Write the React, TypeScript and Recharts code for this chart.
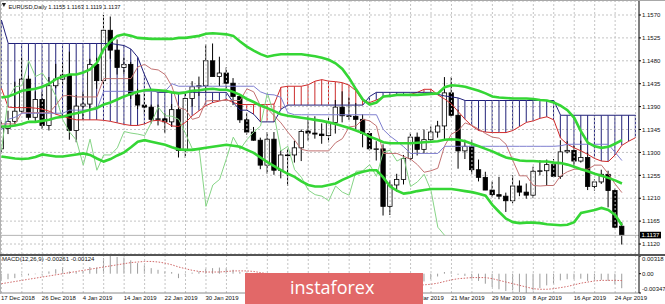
import React from 'react';
import { ComposedChart, Bar, Line, XAxis, YAxis, ReferenceLine, CartesianGrid } from 'recharts';

const FONT = '"Liberation Sans", Arial, sans-serif';

// ---------- data ----------
const dates = [
  '17 Dec 2018','18 Dec 2018','19 Dec 2018','20 Dec 2018','21 Dec 2018','24 Dec 2018','26 Dec 2018','27 Dec 2018','28 Dec 2018','31 Dec 2018',
  '2 Jan 2019','3 Jan 2019','4 Jan 2019','7 Jan 2019','8 Jan 2019','9 Jan 2019','10 Jan 2019','11 Jan 2019','14 Jan 2019','15 Jan 2019',
  '16 Jan 2019','17 Jan 2019','18 Jan 2019','21 Jan 2019','22 Jan 2019','23 Jan 2019','24 Jan 2019','25 Jan 2019','28 Jan 2019','29 Jan 2019',
  '30 Jan 2019','31 Jan 2019','1 Feb 2019','4 Feb 2019','5 Feb 2019','6 Feb 2019','7 Feb 2019','8 Feb 2019','11 Feb 2019','12 Feb 2019',
  '13 Feb 2019','14 Feb 2019','15 Feb 2019','18 Feb 2019','19 Feb 2019','20 Feb 2019','21 Feb 2019','22 Feb 2019','25 Feb 2019','26 Feb 2019',
  '27 Feb 2019','28 Feb 2019','1 Mar 2019','4 Mar 2019','5 Mar 2019','6 Mar 2019','7 Mar 2019','8 Mar 2019','11 Mar 2019','12 Mar 2019',
  '13 Mar 2019','14 Mar 2019','15 Mar 2019','18 Mar 2019','19 Mar 2019','20 Mar 2019','21 Mar 2019','22 Mar 2019','25 Mar 2019','26 Mar 2019',
  '27 Mar 2019','28 Mar 2019','29 Mar 2019','1 Apr 2019','2 Apr 2019','3 Apr 2019','4 Apr 2019','5 Apr 2019','8 Apr 2019','9 Apr 2019',
  '10 Apr 2019','11 Apr 2019','12 Apr 2019','15 Apr 2019','16 Apr 2019','17 Apr 2019','18 Apr 2019','19 Apr 2019','22 Apr 2019','23 Apr 2019',
  '24 Apr 2019','25 Apr 2019','26 Apr 2019','29 Apr 2019',
];
// axis labels that the reference hides behind the watermark
const labelsUnderLogo = ['7 Feb 2019', '15 Feb 2019', '25 Feb 2019', '5 Mar 2019'];

const opens = [
  1.1307,1.1347,1.1361,1.1381,1.1444,1.1369,1.1404,1.1353,1.1431,1.1444,
  1.1452,1.1343,1.1391,1.1395,1.1473,1.1441,1.1540,1.1501,1.1467,1.1473,
  1.1413,1.1393,1.1389,1.1365,1.1366,1.1360,1.1384,1.1304,1.1406,1.1429,
  1.1431,1.1480,1.1449,1.1456,1.1436,1.1410,1.1364,1.1340,1.1324,1.1275,
  1.1326,1.1265,1.1295,1.1295,1.1309,1.1342,1.1338,1.1336,1.1333,1.1359,
  1.1389,1.1372,1.1371,1.1365,1.1337,1.1307,1.1307,1.1194,1.1236,1.1247,
  1.1288,1.1330,1.1306,1.1325,1.1340,1.1352,1.1417,1.1373,1.1303,1.1312,
  1.1266,1.1251,1.1226,1.1217,1.1214,1.1205,1.1234,1.1222,1.1216,1.1263,
  1.1264,1.1276,1.1253,1.1301,1.1304,1.1283,1.1290,1.1233,1.1242,1.1257,
  1.1225,1.1155,
];
const highs = [
  1.1362,1.1382,1.1439,1.1486,1.1451,1.1420,1.1419,1.1448,1.1474,1.1476,
  1.1498,1.1413,1.1419,1.1484,1.1486,1.1570,1.1567,1.1522,1.1486,1.1478,
  1.1425,1.1419,1.1394,1.1394,1.1377,1.1395,1.1392,1.1415,1.1440,1.1449,
  1.1512,1.1514,1.1488,1.1467,1.1446,1.1413,1.1378,1.1350,1.1329,1.1340,
  1.1340,1.1304,1.1307,1.1323,1.1345,1.1372,1.1371,1.1357,1.1369,1.1403,
  1.1420,1.1408,1.1397,1.1375,1.1342,1.1322,1.1316,1.1245,1.1258,1.1295,
  1.1339,1.1339,1.1345,1.1351,1.1362,1.1448,1.1448,1.1384,1.1325,1.1325,
  1.1286,1.1262,1.1243,1.1252,1.1221,1.1255,1.1245,1.1239,1.1272,1.1285,
  1.1286,1.1287,1.1324,1.1322,1.1314,1.1323,1.1300,1.1247,1.1266,1.1264,
  1.1229,1.1163,
];
const lows = [
  1.1300,1.1336,1.1355,1.1378,1.1364,1.1360,1.1346,1.1343,1.1426,1.1432,
  1.1325,1.1320,1.1365,1.1386,1.1425,1.1434,1.1484,1.1453,1.1454,1.1405,
  1.1385,1.1375,1.1357,1.1353,1.1338,1.1350,1.1290,1.1289,1.1390,1.1411,
  1.1418,1.1449,1.1430,1.1421,1.1393,1.1358,1.1335,1.1323,1.1267,1.1258,
  1.1256,1.1249,1.1234,1.1280,1.1283,1.1323,1.1327,1.1317,1.1320,1.1337,
  1.1359,1.1364,1.1345,1.1310,1.1304,1.1284,1.1176,1.1177,1.1223,1.1237,
  1.1284,1.1294,1.1298,1.1320,1.1329,1.1326,1.1369,1.1268,1.1287,1.1257,
  1.1243,1.1226,1.1212,1.1208,1.1183,1.1200,1.1214,1.1209,1.1210,1.1255,
  1.1234,1.1252,1.1248,1.1298,1.1270,1.1280,1.1226,1.1225,1.1238,1.1192,
  1.1151,1.1119,
];
const closes = [
  1.1347,1.1361,1.1381,1.1444,1.1369,1.1404,1.1353,1.1431,1.1444,1.1452,
  1.1343,1.1391,1.1395,1.1473,1.1441,1.1540,1.1501,1.1467,1.1473,1.1413,
  1.1393,1.1389,1.1365,1.1366,1.1360,1.1384,1.1304,1.1406,1.1429,1.1431,
  1.1480,1.1449,1.1456,1.1436,1.1410,1.1364,1.1340,1.1324,1.1275,1.1326,
  1.1265,1.1295,1.1295,1.1309,1.1341,1.1338,1.1336,1.1333,1.1359,1.1389,
  1.1372,1.1371,1.1365,1.1337,1.1307,1.1307,1.1194,1.1236,1.1247,1.1288,
  1.1330,1.1306,1.1325,1.1340,1.1352,1.1417,1.1373,1.1303,1.1312,1.1266,
  1.1251,1.1226,1.1217,1.1214,1.1205,1.1234,1.1222,1.1216,1.1263,1.1264,
  1.1276,1.1253,1.1301,1.1304,1.1283,1.1290,1.1233,1.1242,1.1257,1.1225,
  1.1153,1.1137,
];

const bbUpper = [
  1.1408,1.1410,1.1415,1.1421,1.1423,1.1425,1.1429,1.1435,1.1444,1.1449,
  1.1453,1.1453,1.1457,1.1463,1.1476,1.1503,1.1518,1.1529,1.1532,1.1529,
  1.1525,1.1524,1.1523,1.1523,1.1523,1.1523,1.1525,1.1525,1.1527,1.1529,
  1.1533,1.1534,1.1533,1.1532,1.1529,1.1518,1.1508,1.1500,1.1493,1.1488,
  1.1491,1.1493,1.1493,1.1493,1.1493,1.1491,1.1489,1.1486,1.1482,1.1475,
  1.1464,1.1446,1.1424,1.1404,1.1394,1.1398,1.1410,1.1411,1.1413,1.1413,
  1.1413,1.1413,1.1414,1.1415,1.1416,1.1428,1.1432,1.1431,1.1429,1.1425,
  1.1421,1.1416,1.1410,1.1408,1.1407,1.1406,1.1406,1.1406,1.1405,1.1403,
  1.1402,1.1398,1.1392,1.1383,1.1368,1.1341,1.1319,1.1312,1.1309,1.1311,
  1.1317,1.1324,
];
const bbMiddle = [
  1.1351,1.1351,1.1353,1.1356,1.1360,1.1360,1.1362,1.1364,1.1368,1.1370,
  1.1374,1.1377,1.1380,1.1384,1.1387,1.1394,1.1398,1.1404,1.1410,1.1415,
  1.1419,1.1422,1.1423,1.1422,1.1421,1.1418,1.1416,1.1418,1.1421,1.1422,
  1.1424,1.1425,1.1423,1.1423,1.1419,1.1413,1.1405,1.1399,1.1392,1.1387,
  1.1381,1.1375,1.1372,1.1370,1.1368,1.1366,1.1364,1.1362,1.1359,1.1356,
  1.1352,1.1348,1.1343,1.1338,1.1331,1.1326,1.1320,1.1318,1.1318,1.1318,
  1.1318,1.1319,1.1320,1.1321,1.1322,1.1325,1.1326,1.1325,1.1322,1.1317,
  1.1312,1.1307,1.1302,1.1296,1.1290,1.1287,1.1284,1.1283,1.1283,1.1282,
  1.1282,1.1280,1.1279,1.1276,1.1272,1.1267,1.1263,1.1258,1.1254,1.1250,
  1.1245,1.1239,
];
const bbLower = [
  1.1292,1.1290,1.1288,1.1287,1.1288,1.1291,1.1296,1.1294,1.1292,1.1292,
  1.1294,1.1296,1.1298,1.1295,1.1288,1.1282,1.1287,1.1294,1.1300,1.1310,
  1.1321,1.1324,1.1321,1.1318,1.1315,1.1310,1.1306,1.1305,1.1305,1.1307,
  1.1309,1.1311,1.1313,1.1315,1.1313,1.1311,1.1305,1.1299,1.1290,1.1281,
  1.1273,1.1265,1.1258,1.1252,1.1243,1.1236,1.1233,1.1233,1.1236,1.1239,
  1.1246,1.1252,1.1258,1.1262,1.1265,1.1265,1.1251,1.1233,1.1225,1.1219,
  1.1221,1.1224,1.1226,1.1228,1.1228,1.1228,1.1228,1.1226,1.1224,1.1222,
  1.1219,1.1215,1.1197,1.1183,1.1170,1.1163,1.1161,1.1162,1.1162,1.1161,
  1.1159,1.1158,1.1157,1.1158,1.1163,1.1181,1.1184,1.1187,1.1191,1.1187,
  1.1177,1.1157,
];

const tenkan = [
  1.1356,1.1356,1.1356,1.1378,1.1378,1.1378,1.1378,1.1378,1.1393,1.1411,
  1.1412,1.1409,1.1409,1.1409,1.1409,1.1445,1.1445,1.1445,1.1445,1.1445,
  1.1468,1.1473,1.1464,1.1462,1.1453,1.1430,1.1388,1.1384,1.1365,1.1369,
  1.1401,1.1402,1.1402,1.1402,1.1402,1.1402,1.1425,1.1419,1.1391,1.1386,
  1.1372,1.1358,1.1340,1.1324,1.1306,1.1303,1.1303,1.1303,1.1303,1.1319,
  1.1327,1.1350,1.1352,1.1365,1.1362,1.1352,1.1298,1.1298,1.1298,1.1292,
  1.1287,1.1276,1.1261,1.1264,1.1269,1.1313,1.1336,1.1343,1.1358,1.1353,
  1.1346,1.1337,1.1330,1.1328,1.1316,1.1284,1.1254,1.1254,1.1235,1.1234,
  1.1235,1.1235,1.1254,1.1262,1.1267,1.1267,1.1267,1.1275,1.1275,1.1258,
  1.1238,1.1221,
];
const kijun = [
  1.1344,1.1365,1.1369,1.1377,1.1377,1.1377,1.1377,1.1377,1.1377,1.1377,
  1.1383,1.1383,1.1383,1.1384,1.1384,1.1420,1.1420,1.1420,1.1420,1.1420,
  1.1420,1.1420,1.1420,1.1420,1.1420,1.1435,1.1430,1.1430,1.1430,1.1430,
  1.1430,1.1430,1.1430,1.1430,1.1430,1.1430,1.1430,1.1430,1.1419,1.1414,
  1.1413,1.1408,1.1378,1.1374,1.1374,1.1374,1.1374,1.1374,1.1374,1.1374,
  1.1374,1.1374,1.1374,1.1374,1.1374,1.1374,1.1345,1.1332,1.1322,1.1311,
  1.1298,1.1298,1.1298,1.1298,1.1298,1.1312,1.1312,1.1312,1.1312,1.1312,
  1.1312,1.1312,1.1312,1.1312,1.1312,1.1312,1.1312,1.1312,1.1312,1.1312,
  1.1312,1.1312,1.1313,1.1316,1.1316,1.1316,1.1316,1.1316,1.1316,1.1316,
  1.1300,1.1284,
];
const senkouA = [
  1.1426,1.1389,1.1388,1.1388,1.1388,1.1387,1.1385,1.1381,1.1375,1.1371,
  1.1367,1.1364,1.1364,1.1364,1.1364,1.1363,1.1361,1.1358,1.1355,1.1353,
  1.1353,1.1356,1.1362,1.1363,1.1360,1.1352,1.1351,1.1359,1.1372,1.1382,
  1.1392,1.1398,1.1401,1.1404,1.1398,1.1394,1.1394,1.1394,1.1394,1.1394,
  1.1395,1.1428,1.1430,1.1430,1.1430,1.1433,1.1440,1.1443,1.1440,1.1439,
  1.1437,1.1432,1.1421,1.1401,1.1398,1.1403,1.1409,1.1412,1.1412,1.1412,
  1.1414,1.1418,1.1424,1.1424,1.1413,1.1405,1.1395,1.1380,1.1365,1.1352,
  1.1343,1.1340,1.1339,1.1339,1.1339,1.1343,1.1351,1.1359,1.1362,1.1367,
  1.1370,1.1364,1.1328,1.1316,1.1309,1.1303,1.1296,1.1288,1.1283,1.1282,
  1.1295,1.1314,1.1322,1.1329,
];
const senkouB = [
  1.1560,1.1514,1.1514,1.1514,1.1514,1.1514,1.1514,1.1514,1.1514,1.1514,
  1.1514,1.1514,1.1514,1.1514,1.1514,1.1514,1.1514,1.1512,1.1510,1.1503,
  1.1487,1.1452,1.1422,1.1418,1.1418,1.1418,1.1418,1.1418,1.1418,1.1418,
  1.1418,1.1418,1.1418,1.1418,1.1398,1.1383,1.1383,1.1375,1.1360,1.1360,
  1.1360,1.1385,1.1393,1.1393,1.1393,1.1393,1.1393,1.1393,1.1393,1.1393,
  1.1393,1.1393,1.1393,1.1393,1.1410,1.1418,1.1418,1.1418,1.1418,1.1418,
  1.1418,1.1418,1.1418,1.1418,1.1414,1.1411,1.1409,1.1407,1.1402,1.1402,
  1.1402,1.1402,1.1402,1.1402,1.1402,1.1402,1.1402,1.1402,1.1402,1.1402,
  1.1402,1.1402,1.1373,1.1373,1.1373,1.1373,1.1373,1.1373,1.1373,1.1373,
  1.1373,1.1373,1.1373,1.1373,
];
const chikou = [
  1.1304,1.1406,1.1429,1.1431,1.1480,1.1449,1.1456,1.1436,1.1410,1.1364,
  1.1340,1.1324,1.1275,1.1326,1.1265,1.1295,1.1295,1.1309,1.1341,1.1338,
  1.1336,1.1333,1.1359,1.1389,1.1372,1.1371,1.1365,1.1337,1.1307,1.1307,
  1.1194,1.1236,1.1247,1.1288,1.1330,1.1306,1.1325,1.1340,1.1352,1.1417,
  1.1373,1.1303,1.1312,1.1266,1.1251,1.1226,1.1217,1.1214,1.1205,1.1234,
  1.1222,1.1216,1.1263,1.1264,1.1276,1.1253,1.1301,1.1304,1.1283,1.1290,
  1.1233,1.1242,1.1257,1.1225,1.1153,1.1137,
];

const macdMain = [
  -0.0012,-0.0010,-0.0008,-0.0002,-0.0003,-0.0001,-0.0002,0.0004,0.0008,0.0012,
  0.0004,0.0003,0.0005,0.0012,0.0011,0.0028,0.00318,0.0030,0.0029,0.0024,
  0.0019,0.0015,0.0010,0.0007,0.0004,0.0003,-0.0008,-0.0002,0.0002,0.0004,
  0.0009,0.0010,0.0011,0.0010,0.0007,0.0003,-0.0002,-0.0006,-0.0012,-0.0013,
  -0.0018,-0.0019,-0.0020,-0.0019,-0.0016,-0.0013,-0.0011,-0.0009,-0.0006,-0.0003,
  -0.0001,-0.0001,-0.0002,-0.0005,-0.0008,-0.0011,-0.0022,-0.0030,-0.0030,-0.0027,
  -0.0022,-0.0018,-0.0014,-0.0010,-0.0005,0.0003,0.0004,-0.0002,-0.0004,-0.0009,
  -0.0013,-0.0018,-0.0024,-0.0028,-0.0031,-0.0030,-0.0033,-0.00347,-0.0030,-0.0026,
  -0.0021,-0.0018,-0.0012,-0.0010,-0.0010,-0.0009,-0.0013,-0.0013,-0.0011,-0.0013,
  -0.0019,-0.00261,
];
const macdSignal = [
  -0.0018,-0.0016,-0.0014,-0.0012,-0.0010,-0.0008,-0.0006,-0.0004,-0.0002,0.0000,
  0.0002,0.0004,0.0006,0.0008,0.0010,0.0012,0.0014,0.0016,0.0018,0.0020,
  0.0021,0.0022,0.0022,0.0021,0.0019,0.0016,0.0012,0.0009,0.0006,0.0004,
  0.0003,0.0003,0.0003,0.0004,0.0005,0.0005,0.0005,0.0004,0.0002,0.0000,
  -0.0003,-0.0005,-0.0008,-0.0010,-0.0012,-0.0014,-0.0015,-0.0015,-0.0014,-0.0013,
  -0.0011,-0.0009,-0.0007,-0.0006,-0.0006,-0.0007,-0.0009,-0.0012,-0.0015,-0.0018,
  -0.0020,-0.0021,-0.0020,-0.0019,-0.0017,-0.0014,-0.0011,-0.0009,-0.0008,-0.0007,
  -0.0007,-0.0007,-0.0009,-0.0012,-0.0015,-0.0018,-0.0021,-0.0024,-0.0027,-0.0028,
  -0.0028,-0.0027,-0.0025,-0.0023,-0.0020,-0.0017,-0.0015,-0.0013,-0.0012,-0.0012,
  -0.0012,-0.00124,
];

const priceTicks = [1.1120, 1.1165, 1.1210, 1.1255, 1.1300, 1.1345, 1.1390, 1.1435, 1.1480, 1.1525, 1.1570];
const macdTicks = [0.00318, 0, -0.00347];
const bidPrice = 1.1137;
const titleText = 'EURUSD,Daily  1.1155 1.1163 1.1119 1.1137';
const macdTitle = 'MACD(12,26,9) -0.00261 -0.00124';
const PRICE_DOMAIN: [number, number] = [1.11004, 1.15975];
const MACD_DOMAIN: [number, number] = [-0.00347, 0.00318];

// ---------- rows ----------
const rows = dates.map((d, i) => {
  const r: any = { d };
  if (i < closes.length) {
    r.o = opens[i]; r.h = highs[i]; r.l = lows[i]; r.c = closes[i];
    r.range = [lows[i], highs[i]];
    r.up = bbUpper[i]; r.mid = bbMiddle[i]; r.lo = bbLower[i];
    r.t = tenkan[i]; r.kj = kijun[i];
    r.m = macdMain[i]; r.s = macdSignal[i];
  }
  if (i < chikou.length) r.ch = chikou[i];
  if (senkouA[i] != null) {
    r.sa = senkouA[i]; r.sb = senkouB[i];
    r.cloud = [Math.min(senkouA[i], senkouB[i]), Math.max(senkouA[i], senkouB[i])];
  }
  return r;
});
const gridDates = dates.filter((_, i) => i % 3 === 0);

// ---------- shapes ----------
const Candle = (props: any) => {
  const { x, y, width, height, payload } = props;
  if (!payload || payload.o == null || y == null || height == null) return null;
  const { o, h, l, c } = payload;
  const yTop = Math.min(y, y + height);
  const yBot = Math.max(y, y + height);
  const span = h - l || 1e-9;
  const py = (p: number) => yTop + ((h - p) / span) * (yBot - yTop);
  const cx = x + width / 2;
  const top = py(Math.max(o, c));
  const bot = py(Math.min(o, c));
  const bw = 4.4;
  const bull = c >= o;
  return (
    <g>
      <line x1={cx} x2={cx} y1={yTop} y2={yBot} stroke="#000" strokeWidth={1} />
      <rect x={cx - bw / 2} y={top} width={bw} height={Math.max(bot - top, 0.7)}
        fill={bull ? '#fff' : '#000'} stroke="#000" strokeWidth={0.8} />
    </g>
  );
};

const Hatch = (props: any) => {
  const { x, y, width, height, payload } = props;
  if (!payload || payload.sa == null || y == null) return null;
  const cx = x + width / 2;
  return <line x1={cx} x2={cx} y1={y} y2={y + height}
    stroke={payload.sa > payload.sb ? '#cc2e2e' : '#23237a'} strokeWidth={1} />;
};

const Hist = (props: any) => {
  const { x, y, width, height } = props;
  if (x == null || y == null || !height) return null;
  const cx = x + width / 2;
  return <line x1={cx} x2={cx} y1={y} y2={y + height} stroke="#9c9c9c" strokeWidth={1} />;
};

const PriceTick = (props: any) => {
  const { x, y, payload } = props;
  return <text x={x} y={y + 2.2} fontSize={6} fill="#111" fontFamily={FONT}>{Number(payload.value).toFixed(4)}</text>;
};

const MacdTick = (props: any) => {
  const { x, y, payload } = props;
  const v = Number(payload.value);
  const label = v === 0 ? '0.00' : v.toFixed(5);
  const dy = v > 0 ? 5 : v < 0 ? -2 : 2.5;
  return <text x={x} y={y + dy} fontSize={6} fill="#111" fontFamily={FONT}>{label}</text>;
};

const DateTick = (props: any) => {
  const { x, y, payload } = props;
  if (labelsUnderLogo.includes(payload.value)) return <g />;
  return <text x={x - 0.5} y={y + 7} fontSize={6} fill="#111" fontFamily={FONT}>{payload.value}</text>;
};

const BidLabel = (props: any) => {
  const vb = props.viewBox;
  if (!vb) return null;
  const bx = vb.x + vb.width + 1;
  return (
    <g>
      <rect x={bx} y={vb.y - 3.6} width={21} height={6.6} fill="#000" />
      <text x={bx + 1.5} y={vb.y + 2} fontSize={6} fill="#fff" fontFamily={FONT}>{bidPrice.toFixed(4)}</text>
    </g>
  );
};

const GREEN = '#35d635';

export default function App() {
  return (
    <div style={{ position: 'absolute', left: 0, top: 0, width: 665, height: 304, background: '#fff', overflow: 'hidden' }}>
      {/* main price panel */}
      <div style={{ position: 'absolute', left: -2, top: 0 }}>
        <ComposedChart width={667} height={256} data={rows} margin={{ top: 1, right: 0, bottom: 2, left: 0 }}>
          <XAxis xAxisId="a" dataKey="d" hide />
          <XAxis xAxisId="b" dataKey="d" hide />
          <YAxis yAxisId="p" orientation="right" width={26} type="number" domain={PRICE_DOMAIN} allowDataOverflow
            ticks={priceTicks} interval={0} tick={<PriceTick />} tickSize={2} tickMargin={1}
            axisLine={{ stroke: '#000' }} tickLine={{ stroke: '#000' }} />
          <CartesianGrid xAxisId="a" yAxisId="p" vertical={false} stroke="#c4c4c4" strokeDasharray="2 2" />
          {gridDates.map((d) => (
            <ReferenceLine key={d} xAxisId="a" yAxisId="p" x={d} stroke="#c4c4c4" strokeDasharray="2 2" />
          ))}
          <ReferenceLine xAxisId="a" yAxisId="p" y={bidPrice} stroke="#b4b4b4" label={<BidLabel />} />
          <Bar xAxisId="b" yAxisId="p" dataKey="cloud" shape={(p: any) => <Hatch {...p} />} isAnimationActive={false} />
          <Line xAxisId="a" yAxisId="p" dataKey="sa" stroke="#d02a2a" strokeWidth={1} dot={false} isAnimationActive={false} />
          <Line xAxisId="a" yAxisId="p" dataKey="sb" stroke="#20207a" strokeWidth={1} dot={false} isAnimationActive={false} />
          <Line xAxisId="a" yAxisId="p" dataKey="ch" stroke="#86d486" strokeWidth={1} dot={false} isAnimationActive={false} />
          <Bar xAxisId="a" yAxisId="p" dataKey="range" shape={(p: any) => <Candle {...p} />} isAnimationActive={false} />
          <Line xAxisId="a" yAxisId="p" dataKey="t" stroke="#c27272" strokeWidth={1} dot={false} isAnimationActive={false} />
          <Line xAxisId="a" yAxisId="p" dataKey="kj" stroke="#7f7fcf" strokeWidth={1} dot={false} isAnimationActive={false} />
          <Line xAxisId="a" yAxisId="p" dataKey="up" stroke={GREEN} strokeWidth={2.6} dot={false} isAnimationActive={false} />
          <Line xAxisId="a" yAxisId="p" dataKey="mid" stroke={GREEN} strokeWidth={2.6} dot={false} isAnimationActive={false} />
          <Line xAxisId="a" yAxisId="p" dataKey="lo" stroke={GREEN} strokeWidth={2.6} dot={false} isAnimationActive={false} />
        </ComposedChart>
      </div>

      {/* MACD panel */}
      <div style={{ position: 'absolute', left: -2, top: 254 }}>
        <ComposedChart width={667} height={50} data={rows} margin={{ top: 2, right: 0, bottom: 0, left: 0 }}>
          <XAxis xAxisId="a" dataKey="d" interval={5} height={11} tick={<DateTick />} tickLine={false}
            tickSize={0} tickMargin={0} axisLine={{ stroke: '#8a8a8a' }} />
          <YAxis yAxisId="m" orientation="right" width={26} type="number" domain={MACD_DOMAIN} allowDataOverflow
            ticks={macdTicks} interval={0} tick={<MacdTick />} tickSize={2} tickMargin={1}
            axisLine={{ stroke: '#000' }} tickLine={{ stroke: '#000' }} />
          {gridDates.map((d) => (
            <ReferenceLine key={d} xAxisId="a" yAxisId="m" x={d} stroke="#c4c4c4" strokeDasharray="2 2" />
          ))}
          <Bar xAxisId="a" yAxisId="m" dataKey="m" shape={(p: any) => <Hist {...p} />} isAnimationActive={false} />
          <Line xAxisId="a" yAxisId="m" dataKey="s" stroke="#d06a6a" strokeWidth={1} strokeDasharray="1.5 1.5" dot={false} isAnimationActive={false} />
        </ComposedChart>
      </div>

      {/* frame lines */}
      <div style={{ position: 'absolute', left: 0, top: 0, width: 665, height: 1, background: '#a8a8a8' }} />
      <div style={{ position: 'absolute', left: 0, top: 0, width: 1, height: 294, background: '#b0b0b0' }} />
      <div style={{ position: 'absolute', left: 0, top: 254, width: 665, height: 2, background: '#555' }} />

      {/* texts + watermark */}
      <svg width={665} height={304} style={{ position: 'absolute', left: 0, top: 0, pointerEvents: 'none' }}>
        <polygon points="1.8,3 6,3 3.9,7" fill="#222" />
        <text x={8.5} y={8.6} fontSize={5.7} fill="#111" fontFamily={FONT}>{titleText}</text>
        <text x={2} y={261.2} fontSize={6} fill="#111" fontFamily={FONT}>{macdTitle}</text>
        <rect x={245} y={273} width={178} height={31} fill="#e26868" />
        <text x={290} y={294} fontSize={18} fill="#fff" fontFamily='"Open Sans", Lato, sans-serif'>instaforex</text>
      </svg>
    </div>
  );
}
